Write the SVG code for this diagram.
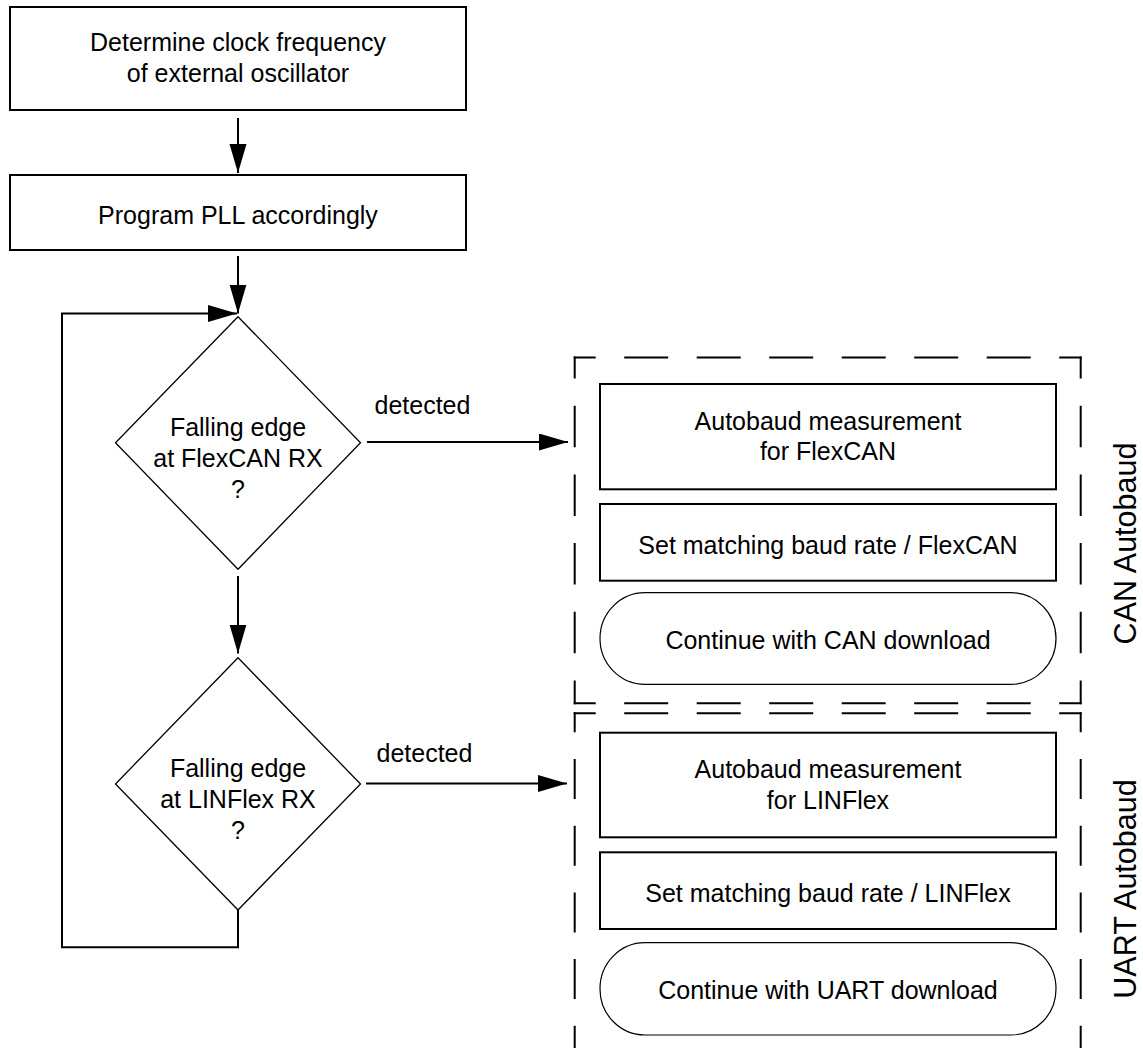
<svg xmlns="http://www.w3.org/2000/svg" width="1143" height="1048" viewBox="0 0 1143 1048">
<style>
text{font-family:"Liberation Sans",Arial,sans-serif;font-size:25px;fill:#000}
.c{text-anchor:middle}
.box{fill:#fff;stroke:#000;stroke-width:2}
.dia{fill:#fff;stroke:#000;stroke-width:1.3}
.term{fill:#fff;stroke:#000;stroke-width:1.2}
.conn{fill:none;stroke:#000;stroke-width:2}
.dh{fill:none;stroke:#000;stroke-width:2;stroke-dasharray:44 28.5;stroke-dashoffset:22}
.dv1{fill:none;stroke:#000;stroke-width:2;stroke-dasharray:41.5 27.2;stroke-dashoffset:19.5}
.dv2{fill:none;stroke:#000;stroke-width:2;stroke-dasharray:40 26.7;stroke-dashoffset:20}
.side{font-size:30.5px;text-anchor:middle}
</style>
<defs>
<marker id="arr" markerUnits="userSpaceOnUse" markerWidth="30" markerHeight="18" refX="29" refY="8.5" orient="auto">
<path d="M0,0 L29,8.5 L0,17 Z" fill="#000"/>
</marker>
</defs>
<rect width="1143" height="1048" fill="#fff"/>

<g id="connectors">
<path class="conn" d="M238,118 V173" marker-end="url(#arr)"/>
<path class="conn" d="M238,256 V313.5" marker-end="url(#arr)"/>
<path class="conn" d="M238,910 V947.3 H62 V313.5 H237" marker-end="url(#arr)"/>
<path class="conn" d="M238,576 V653.5" marker-end="url(#arr)"/>
<path class="conn" d="M367,442 H568" marker-end="url(#arr)"/>
<text x="374.5" y="414.3">detected</text>
<path class="conn" d="M366,783.5 H567" marker-end="url(#arr)"/>
<text x="376.5" y="761.7">detected</text>
</g>

<g id="determine-clock">
<rect class="box" x="10" y="7" width="456" height="103"/>
<text class="c" x="238" y="51">Determine clock frequency</text>
<text class="c" x="238" y="82">of external oscillator</text>
</g>

<g id="program-pll">
<rect class="box" x="10" y="175" width="456" height="75"/>
<text class="c" x="238" y="224">Program PLL accordingly</text>
</g>

<g id="decision-flexcan">
<polygon class="dia" points="238,316.7 360.5,442.7 238,569.3 115.5,442.7"/>
<text class="c" x="238" y="435.7">Falling edge</text>
<text class="c" x="238" y="466.7">at FlexCAN RX</text>
<text class="c" x="238" y="497.7">?</text>
</g>

<g id="decision-linflex">
<polygon class="dia" points="238,657.7 360.5,784 238,910 115.5,784"/>
<text class="c" x="238" y="777">Falling edge</text>
<text class="c" x="238" y="808">at LINFlex RX</text>
<text class="c" x="238" y="839">?</text>
</g>

<g id="can-autobaud-group">
<line class="dh" x1="573.7" y1="357.5" x2="1081.7" y2="357.5"/>
<line class="dh" x1="573.7" y1="703.3" x2="1081.7" y2="703.3"/>
<line class="dv1" x1="574.7" y1="356.5" x2="574.7" y2="704.3"/>
<line class="dv1" x1="1080.7" y1="356.5" x2="1080.7" y2="704.3"/>
<text class="side" transform="translate(1136,543.5) rotate(-90)">CAN Autobaud</text>
</g>

<g id="can-measure">
<rect class="box" x="600" y="384" width="456" height="105.3"/>
<text class="c" x="828" y="430">Autobaud measurement</text>
<text class="c" x="828" y="460">for FlexCAN</text>
</g>

<g id="can-set-baud">
<rect class="box" x="600" y="504" width="456" height="76.7"/>
<text class="c" x="828" y="553.5">Set matching baud rate / FlexCAN</text>
</g>

<g id="can-continue">
<rect class="term" x="600" y="592.7" width="456" height="91.6" rx="45" ry="45.8"/>
<text class="c" x="828" y="649">Continue with CAN download</text>
</g>

<g id="uart-autobaud-group">
<line class="dh" x1="573.7" y1="713.3" x2="1081.7" y2="713.3"/>
<line class="dv2" x1="574.7" y1="712.3" x2="574.7" y2="1048"/>
<line class="dv2" x1="1080.7" y1="712.3" x2="1080.7" y2="1048"/>
<text class="side" transform="translate(1136,889) rotate(-90)">UART Autobaud</text>
</g>

<g id="uart-measure">
<rect class="box" x="600" y="732.7" width="456" height="104.6"/>
<text class="c" x="828" y="777.5">Autobaud measurement</text>
<text class="c" x="828" y="808.5">for LINFlex</text>
</g>

<g id="uart-set-baud">
<rect class="box" x="600" y="852.3" width="456" height="76.7"/>
<text class="c" x="828" y="901.7">Set matching baud rate / LINFlex</text>
</g>

<g id="uart-continue">
<rect class="term" x="600" y="942.7" width="456" height="92.3" rx="45" ry="46"/>
<text class="c" x="828" y="999">Continue with UART download</text>
</g>
</svg>
